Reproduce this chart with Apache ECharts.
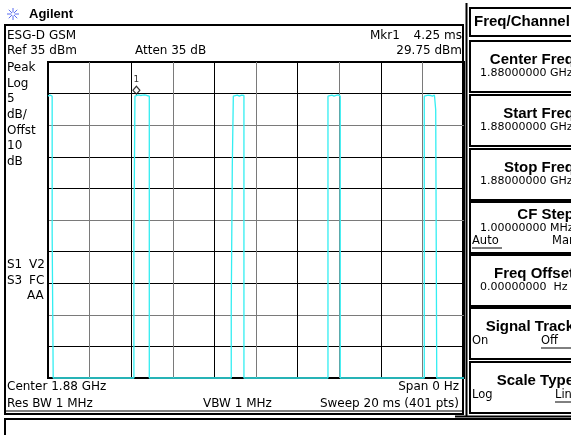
<!DOCTYPE html>
<html><head><meta charset="utf-8">
<script src="https://cdn.jsdelivr.net/npm/echarts@6/dist/echarts.min.js"></script>
<style>html,body{margin:0;padding:0;background:#fff}#c{width:571px;height:435px}</style>
</head><body><div id="c"></div>
<script>
// ---- data (time in ms, level in dBm) ----
const traceTimes  = [0.00, 0.05, 0.10, 0.15, 0.20, 0.20, 0.25, 0.25,
                     4.13, 4.13, 4.18, 4.18, 4.25, 4.35, 4.45, 4.55, 4.65, 4.75, 4.87, 4.87,
                     8.81, 8.81, 8.86, 8.86, 8.91, 8.91, 9.00, 9.10, 9.20, 9.30, 9.42, 9.42,
                     13.46, 13.46, 13.55, 13.65, 13.75, 13.85, 13.95, 14.05, 14.05,
                     18.09, 18.09, 18.18, 18.28, 18.38, 18.48, 18.58, 18.64, 18.64, 18.69, 18.69,
                     20.00];
const traceLevels = [29.6, 29.7, 29.75, 29.7, 29.6, 7.9, 7.9, -15,
                     -15, 7.4, 7.4, 29.6, 29.75, 29.8, 29.7, 29.75, 29.8, 29.7, 29.6, -15,
                     -15, -3.8, -3.8, 18.4, 18.4, 29.6, 29.8, 29.75, 29.6, 29.75, 29.7, -15,
                     -15, 29.6, 29.8, 29.75, 29.6, 29.7, 29.8, 29.6, -15,
                     -15, 29.6, 29.8, 29.75, 29.7, 29.6, 29.75, 29.7, 27.4, 27.4, -15,
                     -15];
const markerTime = 4.25, markerLevel = 29.75;
const refLevel = 35, dbPerDiv = 5, sweepMs = 20;

const headerLeft = ['ESG-D GSM', 'Ref 35 dBm'];
const sideLabels = ['Peak', 'Log', '5', 'dB/', 'Offst', '10', 'dB'];
const softkeys = [
  {title: 'Center Freq', value: '1.88000000 GHz'},
  {title: 'Start Freq', value: '1.88000000 GHz'},
  {title: 'Stop Freq', value: '1.88000000 GHz'},
  {title: 'CF Step', value: '1.00000000 MHz', opts: ['Auto', 'Man'], u: 0},
  {title: 'Freq Offset', value: '0.00000000  Hz'},
  {title: 'Signal Track', opts: ['On', 'Off'], u: 1},
  {title: 'Scale Type', opts: ['Log', 'Lin'], u: 1}
];

const trace = traceTimes.map((t, i) => [t, traceLevels[i]]);
const F = 'DejaVu Sans';
const txt = (x, y, s, o) => ({type: 'text', x, y, style: Object.assign({text: s, font: '12px ' + F, fill: '#000', textVerticalAlign: 'middle'}, o || {})});
const line = (x1, y1, x2, y2, w) => ({type: 'line', shape: {x1, y1, x2, y2}, style: {stroke: '#000', lineWidth: w || 1}});

const g = [];
// logo
for (let k = 0; k < 8; k++) {
  const a = k * Math.PI / 4;
  g.push({type: 'line', shape: {x1: 13 + Math.cos(a) * 1.5, y1: 14 + Math.sin(a) * 1.5, x2: 13 + Math.cos(a) * 6, y2: 14 + Math.sin(a) * 6}, style: {stroke: '#5a6cf0', lineWidth: 1}});
}
g.push(txt(29, 14, 'Agilent', {font: 'bold 13px "Liberation Sans"'}));
// main box
g.push({type: 'rect', shape: {x: 5, y: 25, width: 458, height: 389}, style: {fill: 'none', stroke: '#000', lineWidth: 2}});
g.push(line(5, 411, 463, 411, 1));
// bottom status box
g.push({type: 'rect', shape: {x: 5, y: 419, width: 580, height: 30}, style: {fill: 'none', stroke: '#000', lineWidth: 2}});
// softkey panel frame
g.push(line(466.5, 3, 466.5, 417, 2));
g.push(line(455, 416.5, 571, 416.5, 2));
// header texts
g.push(txt(7, 36, headerLeft[0]));
g.push(txt(7, 51, headerLeft[1]));
g.push(txt(135, 51, 'Atten 35 dB'));
g.push(txt(370, 36, 'Mkr1'));
g.push(txt(462, 36, '4.25 ms', {textAlign: 'right'}));
g.push(txt(462, 51, '29.75 dBm', {textAlign: 'right'}));
sideLabels.forEach((s, i) => g.push(txt(7, 68 + i * 15.6, s)));
g.push(txt(7, 265, 'S1'), txt(29, 265, 'V2'), txt(7, 281, 'S3'), txt(29, 281, 'FC'), txt(27, 296, 'AA'));
g.push(txt(7, 387, 'Center 1.88 GHz'));
g.push(txt(7, 404, 'Res BW 1 MHz'));
g.push(txt(203, 404, 'VBW 1 MHz'));
g.push(txt(459, 387, 'Span 0 Hz', {textAlign: 'right'}));
g.push(txt(459, 404, 'Sweep 20 ms (401 pts)', {textAlign: 'right'}));
// softkeys
const TF = 'bold 15px "Liberation Sans"';
g.push({type: 'rect', shape: {x: 470, y: 8, width: 120, height: 28}, style: {fill: 'none', stroke: '#000', lineWidth: 2}});
g.push(txt(474, 22, 'Freq/Channel', {font: TF}));
const tops = [41, 95, 149, 202, 255, 308, 362];
softkeys.forEach((k, i) => {
  const y0 = tops[i];
  g.push({type: 'rect', shape: {x: 470, y: y0, width: 120, height: 51}, style: {fill: 'none', stroke: '#000', lineWidth: 2}});
  const hasVal = !!k.value, hasOpt = !!k.opts;
  const ty = hasVal && hasOpt ? y0 + 13 : y0 + 19;
  g.push(txt(574, ty, k.title, {font: TF, textAlign: 'right'}));
  if (hasVal) g.push(txt(480, ty + 13, k.value, {font: '11px ' + F}));
  if (hasOpt) {
    const oy = hasVal ? ty + 26 : ty + 14;
    const xs = [472, i === 3 ? 552 : (i === 5 ? 541 : 555)];
    k.opts.forEach((o, j) => g.push(txt(xs[j], oy, o, {font: '11.5px ' + F})));
    const ux = xs[k.u];
    g.push(line(ux, oy + 7, ux + 30, oy + 7, 1));
  }
});

const chart = echarts.init(document.getElementById('c'), null, {renderer: 'canvas'});
chart.setOption({
  animation: false,
  backgroundColor: '#fff',
  grid: {left: 48, top: 62, width: 416, height: 316, show: true, borderColor: '#000', borderWidth: 2, containLabel: false},
  xAxis: {type: 'value', min: 0, max: sweepMs, interval: 2,
    axisLine: {show: false}, axisTick: {show: false}, axisLabel: {show: false},
    splitLine: {show: true, lineStyle: {color: ['#000', '#7a7a7a'], width: 1}}},
  yAxis: {type: 'value', min: refLevel - 10 * dbPerDiv, max: refLevel, interval: dbPerDiv,
    axisLine: {show: false}, axisTick: {show: false}, axisLabel: {show: false},
    splitLine: {show: true, lineStyle: {color: ['#000', '#000', '#7a7a7a', '#000', '#000', '#7a7a7a', '#000', '#000', '#7a7a7a', '#000', '#000'], width: 1}}},
  series: [
    {type: 'line', data: trace, symbol: 'none', clip: false,
      lineStyle: {color: '#33eef2', width: 1.3}, z: 3},
    {type: 'scatter', data: [[markerTime, markerLevel]], symbol: 'diamond', symbolSize: [7, 8], symbolOffset: [0, -5],
      itemStyle: {color: '#fff', borderColor: '#000', borderWidth: 1.2}, z: 4,
      label: {show: true, formatter: '1', position: 'top', distance: 1, fontSize: 9, fontFamily: F, color: '#000'}}
  ],
  graphic: g
});
</script></body></html>
